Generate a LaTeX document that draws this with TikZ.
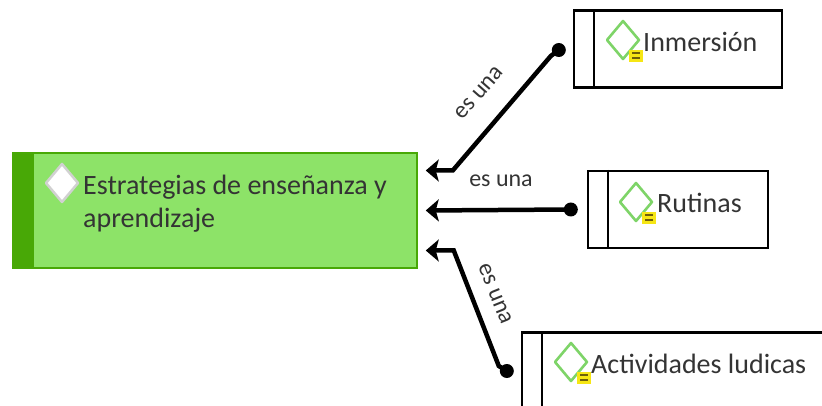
\documentclass[tikz,border=0pt]{standalone}
\usepackage{fontspec}
\setmainfont{Carlito}
\usepackage{tikz}
\usetikzlibrary{arrows.meta, positioning}
\definecolor{leaf}{RGB}{141,227,104}
\definecolor{stem}{RGB}{72,168,6}
\definecolor{ink}{RGB}{52,52,52}
\definecolor{notegreen}{RGB}{126,212,104}
\definecolor{noteyellow}{RGB}{246,230,20}
\definecolor{notedark}{RGB}{110,95,10}

\begin{document}
\begin{tikzpicture}[x=1pt, y=-1pt, font=\fontsize{28}{33}\selectfont, text=ink, >={Stealth[length=13pt, width=22pt, inset=3pt]},
                    topic/.style={draw=black, line width=2.4pt, minimum width=#1, minimum height=77pt, inner sep=0pt},
                    conn/.style={line width=4.5pt, ->},
                    rel/.style={font=\fontsize{24}{28}\selectfont, inner sep=0pt},
                    noteicon/.pic={
                        \draw [notegreen, line width=2.6pt, line join=round] (-16,0) -- (0,-19) -- (16,0) -- (0,19) -- cycle;
                        \fill [noteyellow] (6,10) rectangle (20,22);
                        \draw [notedark, line width=1.6pt] (9,13) -- (17,13) (9,18) -- (17,18);
                    }]
                    \useasboundingbox (0,0) rectangle (822,406);
                    \node [fill=leaf, draw=stem, line width=1.5pt, minimum width=404pt, minimum height=115pt, inner sep=0pt] (main) at (215,210.5) {};
                    \fill [stem] (main.north west) rectangle ([xshift=22pt]main.south west);
                    \draw [black!18, line width=2.5pt, fill=white, line join=round] (46,183) -- (62,164) -- (78,183) -- (62,202) -- cycle;
                    \node [anchor=base west, align=left, inner sep=0pt] (mainlbl) at (83,228) {Estrategias de enseñanza y\\aprendizaje};
                    \node [topic=208pt] (inm) at (678,49) {};
                    \draw [line width=2pt] ([xshift=21pt]inm.north west) -- ([xshift=21pt]inm.south west);
                    \pic at (623,40) {noteicon};
                    \node [anchor=base west, inner sep=0pt] (inmlbl) at (643,52) {Inmersión};
                    \node [topic=180pt] (rut) at (678,209.5) {};
                    \draw [line width=2pt] ([xshift=21pt]rut.north west) -- ([xshift=21pt]rut.south west);
                    \pic at (636,202) {noteicon};
                    \node [anchor=base west, inner sep=0pt] (rutlbl) at (657,213) {Rutinas};
                    \node [topic=310pt] (act) at (677,371) {};
                    \draw [line width=2pt] ([xshift=21pt]act.north west) -- ([xshift=21pt]act.south west);
                    \pic at (571,362) {noteicon};
                    \node [anchor=base west, inner sep=0pt] (actlbl) at (591,373) {Actividades ludicas};
                    \coordinate (d1) at ([xshift=-14pt, yshift=-1pt]inm.west);
                    \coordinate (d2) at ([xshift=-16pt]rut.west);
                    \coordinate (d3) at ([xshift=-14pt]act.west);
                    \draw [conn] (d1) -- ++(-8,6) -- ([xshift=35pt, yshift=40pt]main.east) -- ([xshift=8pt, yshift=40pt]main.east);
                    \draw [conn] (d2) -- ([xshift=8pt]main.east);
                    \draw [conn] (d3) -- ++(-8,-5) -- ([xshift=36pt, yshift=-40pt]main.east) -- ([xshift=8pt, yshift=-40pt]main.east);
                    \foreach \d in {d1, d2, d3}
                        \fill (\d) circle [radius=7pt];
                    \node [rel, rotate=48.5] (rel1) at (479,93) {es una};
                    \node [rel] (rel2) at (501,181) {es una};
                    \node [rel, rotate=-68] (rel3) at (495,294) {es una};
                \end{tikzpicture}
\end{document}
